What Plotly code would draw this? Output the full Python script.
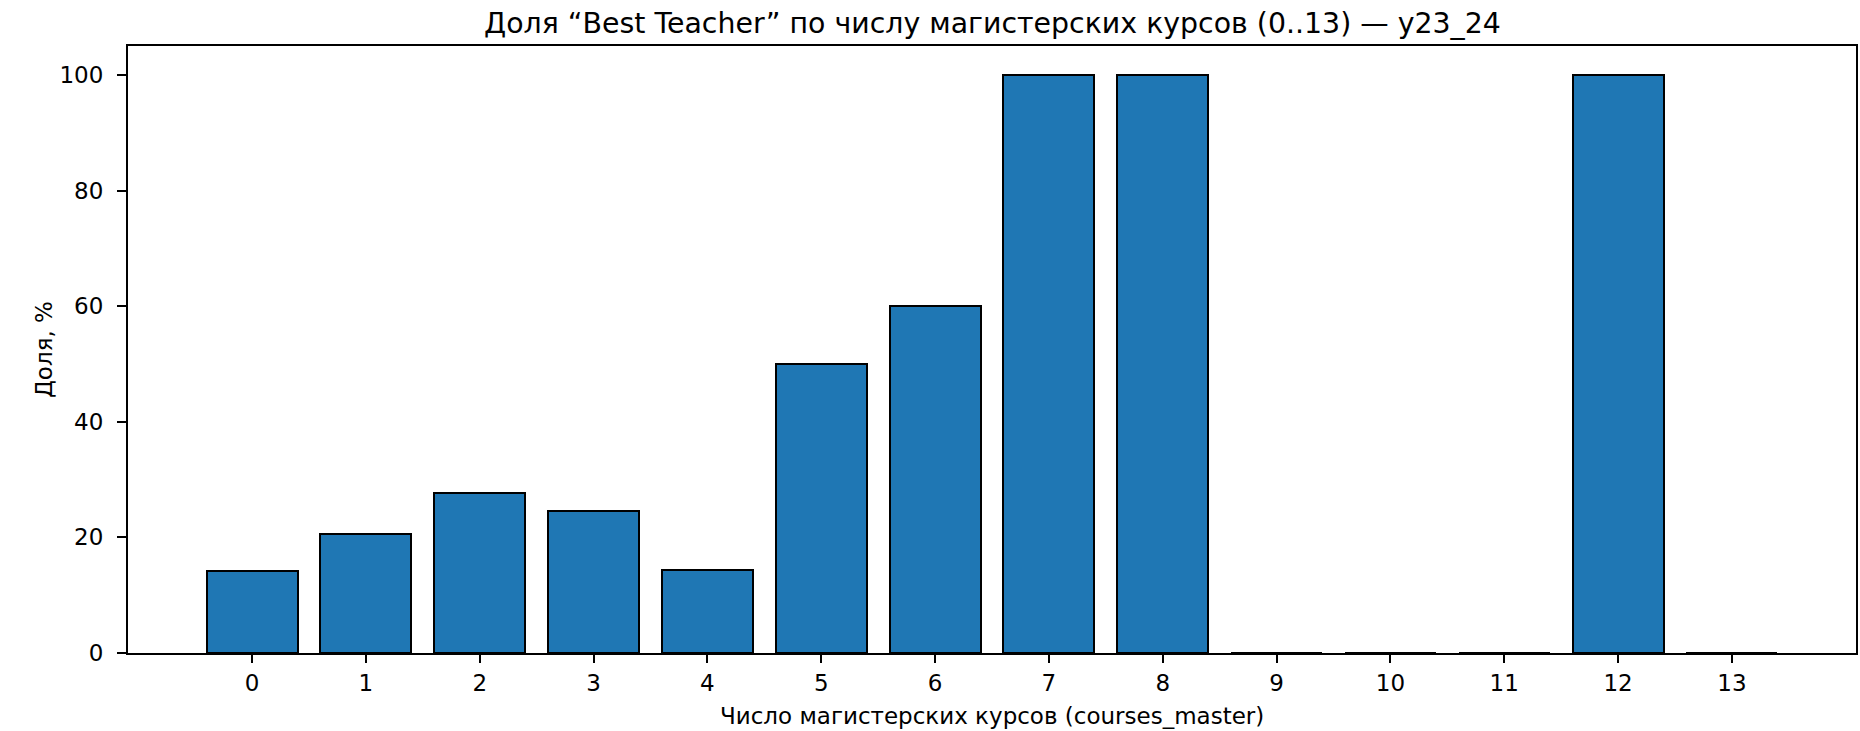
import plotly.graph_objects as go

categories = list(range(14))
share_pct = [14.1, 20.5, 27.7, 24.5, 14.3, 50.0, 60.0, 100.0, 100.0, 0.0, 0.0, 0.0, 100.0, 0.0]
x_ticks = list(range(14))
y_ticks = [0, 20, 40, 60, 80, 100]

title_text = "Доля “Best Teacher” по числу магистерских курсов (0..13) — y23_24"
x_label = "Число магистерских курсов (courses_master)"
y_label = "Доля, %"

FONT = "DejaVu Sans"
W, H = 1860, 731
ML, MR, MT, MB = 128, 2, 46, 78
PW = W - ML - MR
PH = H - MT - MB

fig = go.Figure()
fig.add_trace(go.Bar(
    x=categories,
    y=share_pct,
    width=0.8,
    marker=dict(color="#1f77b4", line=dict(color="black", width=2)),
    hoverinfo="x+y",
))

fig.update_layout(
    width=W,
    height=H,
    margin=dict(l=ML, r=MR, t=MT, b=MB),
    paper_bgcolor="white",
    plot_bgcolor="white",
    showlegend=False,
    font=dict(family=FONT, size=23, color="black"),
    title=dict(
        text=title_text,
        font=dict(family=FONT, size=28.4, color="black"),
        x=0.5336, xref="container", xanchor="center",
        y=1 - 23 / H, yref="container", yanchor="middle",
    ),
    bargap=0,
)

# axis titles placed as annotations for precise positioning
fig.add_annotation(
    text=x_label, xref="paper", yref="paper",
    x=0.5, y=-(716 - (H - MB)) / PH, xanchor="center", yanchor="middle",
    showarrow=False, font=dict(family=FONT, size=23, color="black"),
)
fig.add_annotation(
    text=y_label, xref="paper", yref="paper",
    x=-(ML - 43.5) / PW, y=0.5, xanchor="center", yanchor="middle",
    textangle=-90, showarrow=False, font=dict(family=FONT, size=23, color="black"),
)

fig.update_xaxes(
    range=[-1.09, 14.09],
    tickmode="array",
    tickvals=x_ticks,
    ticktext=[str(v) for v in x_ticks],
    ticks="outside",
    ticklen=8,
    tickwidth=1.8,
    tickcolor="black",
    showline=True,
    linecolor="black",
    linewidth=2,
    mirror=True,
    showgrid=False,
    zeroline=False,
    tickfont=dict(family=FONT, size=23, color="black"),
)

fig.update_yaxes(
    range=[0, 105],
    tickmode="array",
    tickvals=y_ticks,
    ticks="outside",
    ticklen=9,
    tickwidth=1.8,
    tickcolor="black",
    showline=True,
    linecolor="black",
    linewidth=2,
    mirror=True,
    showgrid=False,
    zeroline=False,
    ticklabelstandoff=9,
    tickfont=dict(family=FONT, size=23, color="black"),
)

fig.write_html(
    "out.html",
    config={"displayModeBar": False},
    post_script="document.body.style.margin='0';document.body.style.overflow='hidden';",
)
